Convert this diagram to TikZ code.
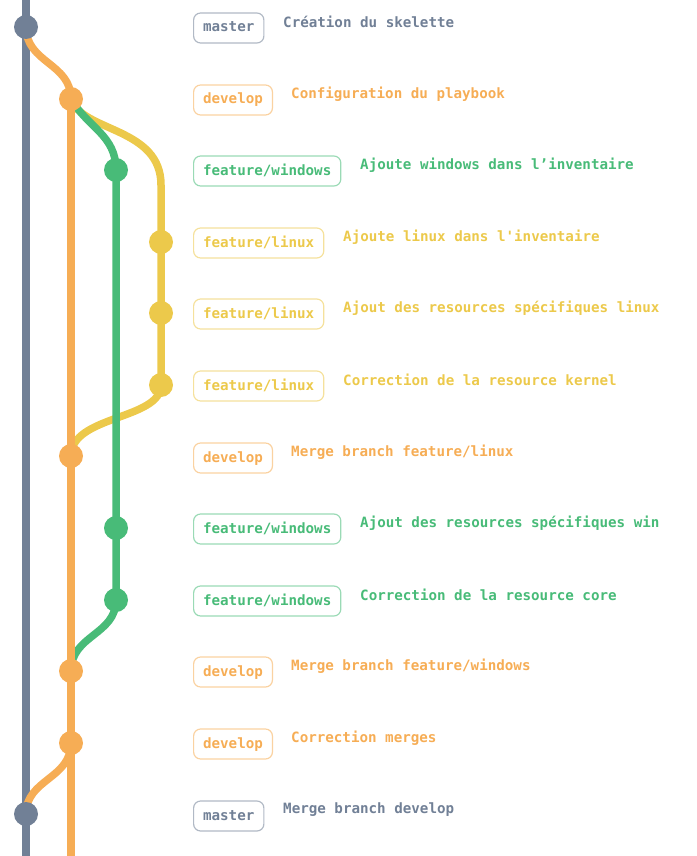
\documentclass[tikz,border=0pt]{standalone}
\usepackage{fontspec}
\setmonofont{DejaVu Sans Mono}
\usetikzlibrary{backgrounds}
\definecolor{cmaster}{HTML}{718096}
\definecolor{cdevelop}{HTML}{F6AD55}
\definecolor{cwin}{HTML}{48BB78}
\definecolor{clinux}{HTML}{ECC94B}
\tikzset{
  commit/.style={circle,fill=#1,minimum size=24pt,inner sep=0pt},
  branchline/.style={draw=#1,line width=7.5pt},
  tag/.style={draw=#1!55!white,line width=1.2pt,rounded corners=7pt,text=#1,
    font=\ttfamily\bfseries\fontsize{14.2}{15}\selectfont,anchor=west,
    inner xsep=9.5pt,minimum height=30pt,text height=10.5pt,text depth=2.5pt},
  msg/.style={text=#1,font=\ttfamily\bfseries\fontsize{14.2}{15}\selectfont,anchor=west,inner sep=0pt}
}
\begin{document}
\begin{tikzpicture}[x=1pt,y=-1pt]
\useasboundingbox (0,0) rectangle (696,856);
% commits
\node[commit=cmaster] (c1) at (26,27) {};
\node[commit=cdevelop] (c2) at (71,99) {};
\node[commit=cwin] (c3) at (116,170) {};
\node[commit=clinux] (c4) at (161,242) {};
\node[commit=clinux] (c5) at (161,313) {};
\node[commit=clinux] (c6) at (161,385) {};
\node[commit=cdevelop] (c7) at (71,456) {};
\node[commit=cwin] (c8) at (116,528) {};
\node[commit=cwin] (c9) at (116,600) {};
\node[commit=cdevelop] (c10) at (71,671) {};
\node[commit=cdevelop] (c11) at (71,743) {};
\node[commit=cmaster] (c12) at (26,814) {};
\coordinate (mtop) at (26,0);
\coordinate (mbot) at (26,856);
\coordinate (dbot) at (71,856);
\coordinate (lturn) at (161,185);
\begin{scope}[on background layer]
  \draw[branchline=cmaster,line width=8pt] (mtop) -- (c1.center) -- (c12.center) -- (mbot);
  \draw[branchline=cdevelop] (c1.center) .. controls (26,63) and (71,63) .. (c2.center);
  \draw[branchline=cdevelop] (c11.center) .. controls (71,779) and (26,779) .. (c12.center);
  \draw[branchline=clinux] (c2.center) .. controls (82,132) and (161,127) .. (lturn) -- (c4.center) -- (c5.center) -- (c6.center);
  \draw[branchline=clinux] (c6.center) .. controls (161,420) and (71,415) .. (c7.center);
  \draw[branchline=cwin] (c2.center) .. controls (88,128) and (116,135) .. (c3.center) -- (c8.center) -- (c9.center);
  \draw[branchline=cwin] (c9.center) .. controls (116,635) and (71,635) .. (c10.center);
  \draw[branchline=cdevelop] (c2.center) -- (c7.center) -- (c10.center) -- (c11.center) -- (dbot);
\end{scope}
% tags and messages
\node[tag=cmaster] (t1) at (193,28) {master};
\node[msg=cmaster] (m1) at (283,22) {Création du skelette};
\node[tag=cdevelop] (t2) at (193,100) {develop};
\node[msg=cdevelop] (m2) at (291,94) {Configuration du playbook};
\node[tag=cwin] (t3) at (193,171) {feature/windows};
\node[msg=cwin] (m3) at (360,165) {Ajoute windows dans l’inventaire};
\node[tag=clinux] (t4) at (193,243) {feature/linux};
\node[msg=clinux] (m4) at (343,237) {Ajoute linux dans l'inventaire};
\node[tag=clinux] (t5) at (193,314) {feature/linux};
\node[msg=clinux] (m5) at (343,308) {Ajout des resources spécifiques linux};
\node[tag=clinux] (t6) at (193,386) {feature/linux};
\node[msg=clinux] (m6) at (343,380) {Correction de la resource kernel};
\node[tag=cdevelop] (t7) at (193,458) {develop};
\node[msg=cdevelop] (m7) at (291,452) {Merge branch feature/linux};
\node[tag=cwin] (t8) at (193,529) {feature/windows};
\node[msg=cwin] (m8) at (360,523) {Ajout des resources spécifiques win};
\node[tag=cwin] (t9) at (193,601) {feature/windows};
\node[msg=cwin] (m9) at (360,595) {Correction de la resource core};
\node[tag=cdevelop] (t10) at (193,672) {develop};
\node[msg=cdevelop] (m10) at (291,666) {Merge branch feature/windows};
\node[tag=cdevelop] (t11) at (193,744) {develop};
\node[msg=cdevelop] (m11) at (291,738) {Correction merges};
\node[tag=cmaster] (t12) at (193,816) {master};
\node[msg=cmaster] (m12) at (283,810) {Merge branch develop};
\end{tikzpicture}
\end{document}
